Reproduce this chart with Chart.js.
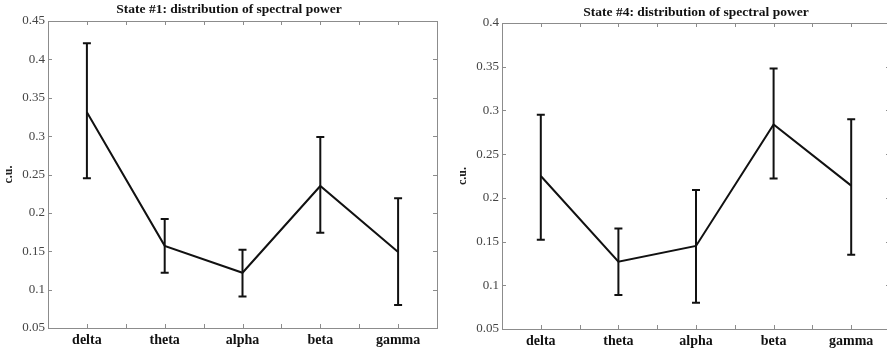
<!DOCTYPE html>
<html>
<head>
<meta charset="utf-8">
<script src="https://cdn.jsdelivr.net/npm/chart.js@4/dist/chart.umd.min.js"></script>
<style>
    html, body { margin: 0; padding: 0; background: #fff; overflow: hidden; }
    body { width: 887px; height: 348px; position: relative; }
    .panel { position: absolute; top: 0; height: 348px; }
    #left-panel { left: 0; width: 458px; }
    #right-panel { left: 452px; width: 450px; }
</style>
</head>
<body>
<div class="panel" id="left-panel"><canvas id="state1-chart"></canvas></div>
<div class="panel" id="right-panel"><canvas id="state4-chart"></canvas></div>
<script>
const bands = ['delta', 'theta', 'alpha', 'beta', 'gamma'];

// State #1 (mean with lower / upper error bar ends)
const state1Mean = [0.331, 0.157, 0.122, 0.235, 0.149];
const state1Low = [0.245, 0.122, 0.091, 0.174, 0.080];
const state1High = [0.421, 0.192, 0.152, 0.299, 0.219];
const state1Ticks = [0.05, 0.1, 0.15, 0.2, 0.25, 0.3, 0.35, 0.4, 0.45];

// State #4
const state4Mean = [0.225, 0.127, 0.145, 0.284, 0.214];
const state4Low = [0.152, 0.089, 0.080, 0.222, 0.135];
const state4High = [0.295, 0.165, 0.209, 0.348, 0.290];
const state4Ticks = [0.05, 0.1, 0.15, 0.2, 0.25, 0.3, 0.35, 0.4];

const serif = "'Liberation Serif', 'DejaVu Serif', serif";
const frameColor = '#8c8c8c';

// error bars drawn from the y scale of the chart
const errorBars = {
    id: 'errorBars',
    afterDatasetsDraw(chart, args, opts) {
        const { ctx } = chart;
        const y = chart.scales.y;
        const meta = chart.getDatasetMeta(0);
        ctx.save();
        ctx.strokeStyle = '#111';
        ctx.lineWidth = 2;
        meta.data.forEach((pt, i) => {
            const top = y.getPixelForValue(opts.high[i]);
            const bottom = y.getPixelForValue(opts.low[i]);
            ctx.beginPath();
            ctx.moveTo(pt.x, top);
            ctx.lineTo(pt.x, bottom);
            ctx.moveTo(pt.x - 4, top);
            ctx.lineTo(pt.x + 4, top);
            ctx.moveTo(pt.x - 4, bottom);
            ctx.lineTo(pt.x + 4, bottom);
            ctx.stroke();
        });
        ctx.restore();
    }
};

// box around the plot with small inward ticks, matlab style
const boxFrame = {
    id: 'boxFrame',
    afterDraw(chart) {
        const { ctx, chartArea: a } = chart;
        const x = chart.scales.x;
        const y = chart.scales.y;
        ctx.save();
        ctx.strokeStyle = frameColor;
        ctx.lineWidth = 1;
        ctx.strokeRect(a.left + 0.5, a.top + 0.5, a.right - a.left, a.bottom - a.top);
        ctx.beginPath();
        y.ticks.forEach(t => {
            const py = Math.round(y.getPixelForValue(t.value)) + 0.5;
            ctx.moveTo(a.left, py); ctx.lineTo(a.left + 4, py);
            ctx.moveTo(a.right, py); ctx.lineTo(a.right - 4, py);
        });
        for (let i = 0; i <= (bands.length - 1) * 2; i++) {
            const px = Math.round(x.getPixelForValue(i / 2)) + 0.5;
            ctx.moveTo(px, a.top); ctx.lineTo(px, a.top + 4);
            ctx.moveTo(px, a.bottom); ctx.lineTo(px, a.bottom - 4);
        }
        ctx.stroke();
        ctx.restore();
    }
};

function makeChart(canvasId, cfg) {
    const scales = {
        x: {
            type: 'category',
            offset: true,
            grid: { display: false, drawTicks: false },
            border: { display: false },
            ticks: {
                padding: 4,
                color: '#111',
                font: { family: serif, size: 14, weight: 'bold' }
            },
            afterFit(s) { s.height = 348 - cfg.bottom; }
        },
        y: {
            min: cfg.ticks[0],
            max: cfg.ticks[cfg.ticks.length - 1],
            grid: { display: false, drawTicks: false },
            border: { display: false },
            afterBuildTicks(s) { s.ticks = cfg.ticks.map(v => ({ value: v })); },
            ticks: {
                padding: 3,
                color: '#444',
                font: { family: serif, size: 13 },
                callback: v => String(+v.toFixed(2))
            },
            title: {
                display: true,
                text: 'c.u.',
                color: '#222',
                padding: { top: cfg.labelPad, bottom: 0 },
                font: { family: serif, size: 12, weight: 'bold' }
            },
            afterFit(s) { s.width = cfg.axisWidth; }
        }
    };
    if (cfg.rightSpace) {
        // empty right-hand axis only to keep the title centred like the original
        scales.pad = {
            position: 'right',
            display: true,
            grid: { display: false },
            border: { display: false },
            ticks: { display: false },
            afterFit(s) { s.width = cfg.rightSpace; }
        };
    }

    return new Chart(document.getElementById(canvasId), {
        type: 'line',
        data: {
            labels: bands,
            datasets: [{
                data: cfg.mean,
                borderColor: '#111',
                borderWidth: 2,
                pointRadius: 0,
                tension: 0,
                fill: false
            }]
        },
        options: {
            responsive: true,
            maintainAspectRatio: false,
            animation: false,
            layout: { padding: { left: 0, right: cfg.padRight, top: 0, bottom: 0 } },
            plugins: {
                legend: { display: false },
                tooltip: { enabled: false },
                title: {
                    display: true,
                    text: cfg.title,
                    color: '#111',
                    fullSize: cfg.fullSize,
                    padding: { top: cfg.titleTop, bottom: cfg.titleBottom },
                    font: { family: serif, size: 13.5, weight: 'bold' }
                },
                errorBars: { low: cfg.low, high: cfg.high }
            },
            scales
        },
        plugins: [errorBars, boxFrame]
    });
}

makeChart('state1-chart', {
    title: 'State #1: distribution of spectral power',
    mean: state1Mean, low: state1Low, high: state1High, ticks: state1Ticks,
    axisWidth: 48, labelPad: 2, bottom: 328,
    padRight: 0, rightSpace: 21, fullSize: true,
    titleTop: 1, titleBottom: 3.8
});

makeChart('state4-chart', {
    title: 'State #4: distribution of spectral power',
    mean: state4Mean, low: state4Low, high: state4High, ticks: state4Ticks,
    axisWidth: 50, labelPad: 4, bottom: 329,
    padRight: 12, rightSpace: 0, fullSize: false,
    titleTop: 4, titleBottom: 2.8
});
</script>
</body>
</html>
